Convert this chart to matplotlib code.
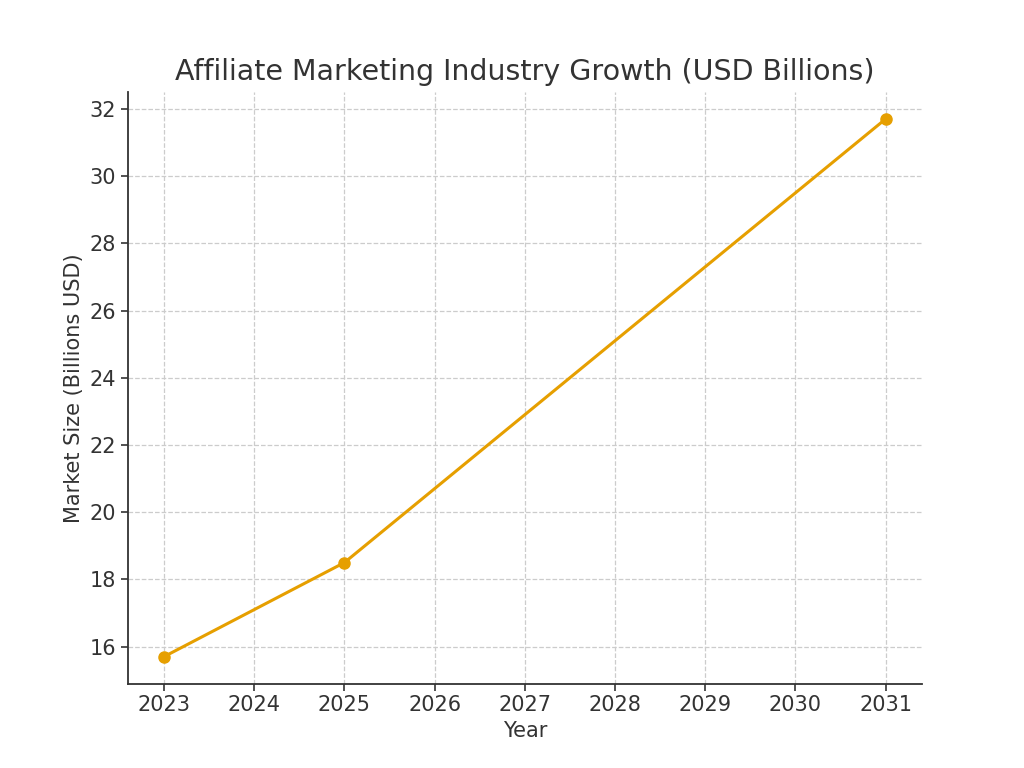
import matplotlib
matplotlib.use("Agg")
import matplotlib.pyplot as plt

plt.rcParams['font.family'] = ['DejaVu Sans']

# Datos
years = [2023, 2025, 2031]
market_size = [15.7, 18.5, 31.7]
x_ticks = [2023, 2024, 2025, 2026, 2027, 2028, 2029, 2030, 2031]

text_color = "#333333"

fig, ax = plt.subplots(figsize=(10.24, 7.68), dpi=100)
ax.plot(years, market_size, marker="o", color="#E69F00", linewidth=2.2, markersize=8)

ax.set_title("Affiliate Marketing Industry Growth (USD Billions)", fontsize=20.5,
             color=text_color, pad=9)
ax.set_xlabel("Year", fontsize=15, color=text_color)
ax.set_ylabel("Market Size (Billions USD)", fontsize=15, color=text_color)
ax.set_xticks(x_ticks)
ax.tick_params(labelsize=15, colors=text_color, length=5, width=1.2)
ax.grid(True, linestyle="--", color="#cccccc", linewidth=0.9)

for side in ["top", "right"]:
    ax.spines[side].set_visible(False)
for side in ["left", "bottom"]:
    ax.spines[side].set_color(text_color)
    ax.spines[side].set_linewidth(1.3)

fig.savefig("out.png", dpi=100)
